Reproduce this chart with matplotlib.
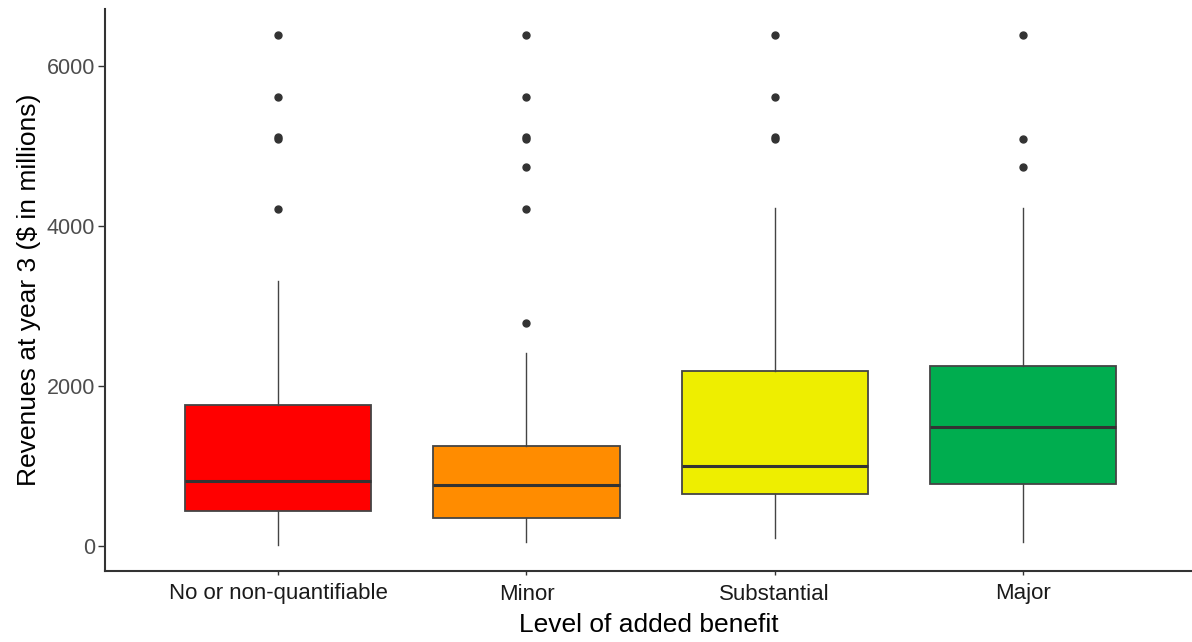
import matplotlib.pyplot as plt

plt.rcParams['font.family'] = ['Liberation Sans', 'DejaVu Sans']

# Summary statistics per level of added benefit ($ in millions)
categories = ['No or non-quantifiable', 'Minor', 'Substantial', 'Major']
whisker_low = [10, 42, 92, 50]
q1 = [434, 350, 642, 771]
median = [813, 763, 996, 1484]
q3 = [1759, 1242, 2184, 2250]
whisker_high = [3313, 2405, 4217, 4217]
outliers = [
    [4213, 5090, 5115, 5608, 6384],
    [2784, 4213, 4738, 5090, 5115, 5608, 6384],
    [5090, 5115, 5608, 6384],
    [4738, 5088, 6384],
]
colors = ['#FF0000', '#FF8C00', '#EEEE00', '#00AD4F']

stats = []
for i, name in enumerate(categories):
    stats.append({
        'label': name,
        'whislo': whisker_low[i],
        'q1': q1[i],
        'med': median[i],
        'q3': q3[i],
        'whishi': whisker_high[i],
        'fliers': outliers[i],
    })

fig = plt.figure(figsize=(11.92, 6.42), dpi=100)
ax = fig.add_axes([105 / 1192, 71 / 642, 1 - 105 / 1192, 562 / 642])

bp = ax.bxp(stats, positions=range(1, 5), widths=0.75, patch_artist=True,
            showcaps=False,
            boxprops=dict(edgecolor='#444444', linewidth=1.3),
            medianprops=dict(color='#333333', linewidth=2.2),
            whiskerprops=dict(color='#444444', linewidth=1.0),
            flierprops=dict(marker='o', markerfacecolor='#333333',
                            markeredgecolor='#333333', markersize=5))
for patch, c in zip(bp['boxes'], colors):
    patch.set_facecolor(c)

ax.set_xlim(0.3015, 4.682)
ax.set_ylim(-316, 6709)
ax.set_yticks([0, 2000, 4000, 6000])

for side in ['top', 'right']:
    ax.spines[side].set_visible(False)
for side in ['left', 'bottom']:
    ax.spines[side].set_color('#333333')
    ax.spines[side].set_linewidth(1.5)

ax.tick_params(axis='both', colors='#333333', length=5, width=1.0)
ax.tick_params(axis='y', labelcolor='#4D4D4D', labelsize=15.5, pad=2)
ax.tick_params(axis='x', labelcolor='#1A1A1A', labelsize=16, length=3, pad=6)

ax.set_xlabel('Level of added benefit', fontsize=19, color='black', labelpad=6)
ax.set_ylabel('Revenues at year 3 ($ in millions)', fontsize=19,
              color='black', labelpad=4)

fig.savefig('out.png', dpi=100)
